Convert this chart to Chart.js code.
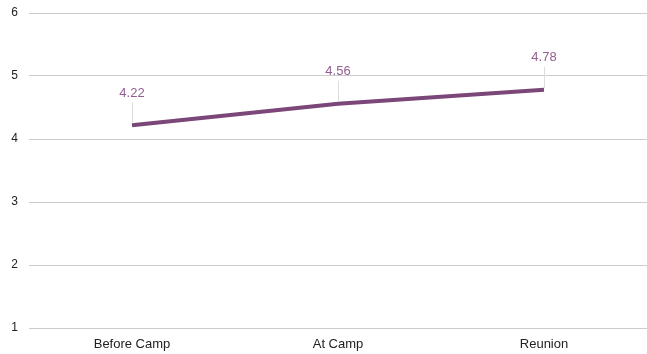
<!DOCTYPE html>
<html>
<head>
<meta charset="utf-8">
<script src="https://cdn.jsdelivr.net/npm/chart.js@4"></script>
<style>
  html, body { margin: 0; padding: 0; background: #fff; }
  canvas { display: block; }
</style>
</head>
<body>
<canvas id="camp_chart" width="647" height="354"></canvas>
<script>
const stages = ["Before Camp", "At Camp", "Reunion"];
const scores = [4.22, 4.56, 4.78];
const yTicks = [1, 2, 3, 4, 5, 6];

const lineColor = "#7b4678";
const labelColor = "#925e8f";
const fontFamily = "'Liberation Sans', Arial, sans-serif";

// value labels above each point, with a thin leader line down to the point
const pointLabels = {
    id: "pointLabels",
    afterDatasetsDraw(chart) {
        const ctx = chart.ctx;
        const meta = chart.getDatasetMeta(0);
        ctx.save();
        meta.data.forEach((pt, i) => {
            const x = Math.round(pt.x) + 0.5;
            ctx.strokeStyle = "#dddddd";
            ctx.lineWidth = 1;
            ctx.beginPath();
            ctx.moveTo(x, pt.y - 2);
            ctx.lineTo(x, pt.y - 23);
            ctx.stroke();
            ctx.fillStyle = labelColor;
            ctx.font = "13px " + fontFamily;
            ctx.textAlign = "center";
            ctx.textBaseline = "middle";
            ctx.fillText(scores[i].toFixed(2), pt.x, pt.y - 32);
        });
        ctx.restore();
    },
};

new Chart(document.getElementById("camp_chart"), {
    type: "line",
    data: {
        labels: stages,
        datasets: [
            {
                data: scores,
                borderColor: lineColor,
                borderWidth: 4,
                pointRadius: 0,
                tension: 0,
                clip: false,
            },
        ],
    },
    options: {
        responsive: false,
        animation: false,
        layout: { padding: { top: 13, right: 0, left: 0, bottom: 0 } },
        plugins: {
            legend: { display: false },
            tooltip: { enabled: false },
        },
        scales: {
            x: {
                offset: true,
                grid: { display: false, drawTicks: false },
                border: { display: false },
                ticks: {
                    color: "#222",
                    font: { family: fontFamily, size: 13 },
                    padding: 9,
                    maxRotation: 0,
                },
                afterFit(scale) { scale.height = 26; },
            },
            y: {
                min: 1,
                max: 6,
                afterBuildTicks(scale) {
                    scale.ticks = yTicks.map((v) => ({ value: v }));
                },
                grid: { color: "#cccccc", drawTicks: false, lineWidth: 1 },
                border: { display: false },
                ticks: {
                    color: "#222",
                    font: { family: fontFamily, size: 12 },
                    padding: 11,
                },
                afterFit(scale) {
                    scale.width = 29;
                    scale.paddingTop = 0;
                    scale.paddingBottom = 0;
                },
            },
        },
    },
    plugins: [pointLabels],
});
</script>
</body>
</html>
